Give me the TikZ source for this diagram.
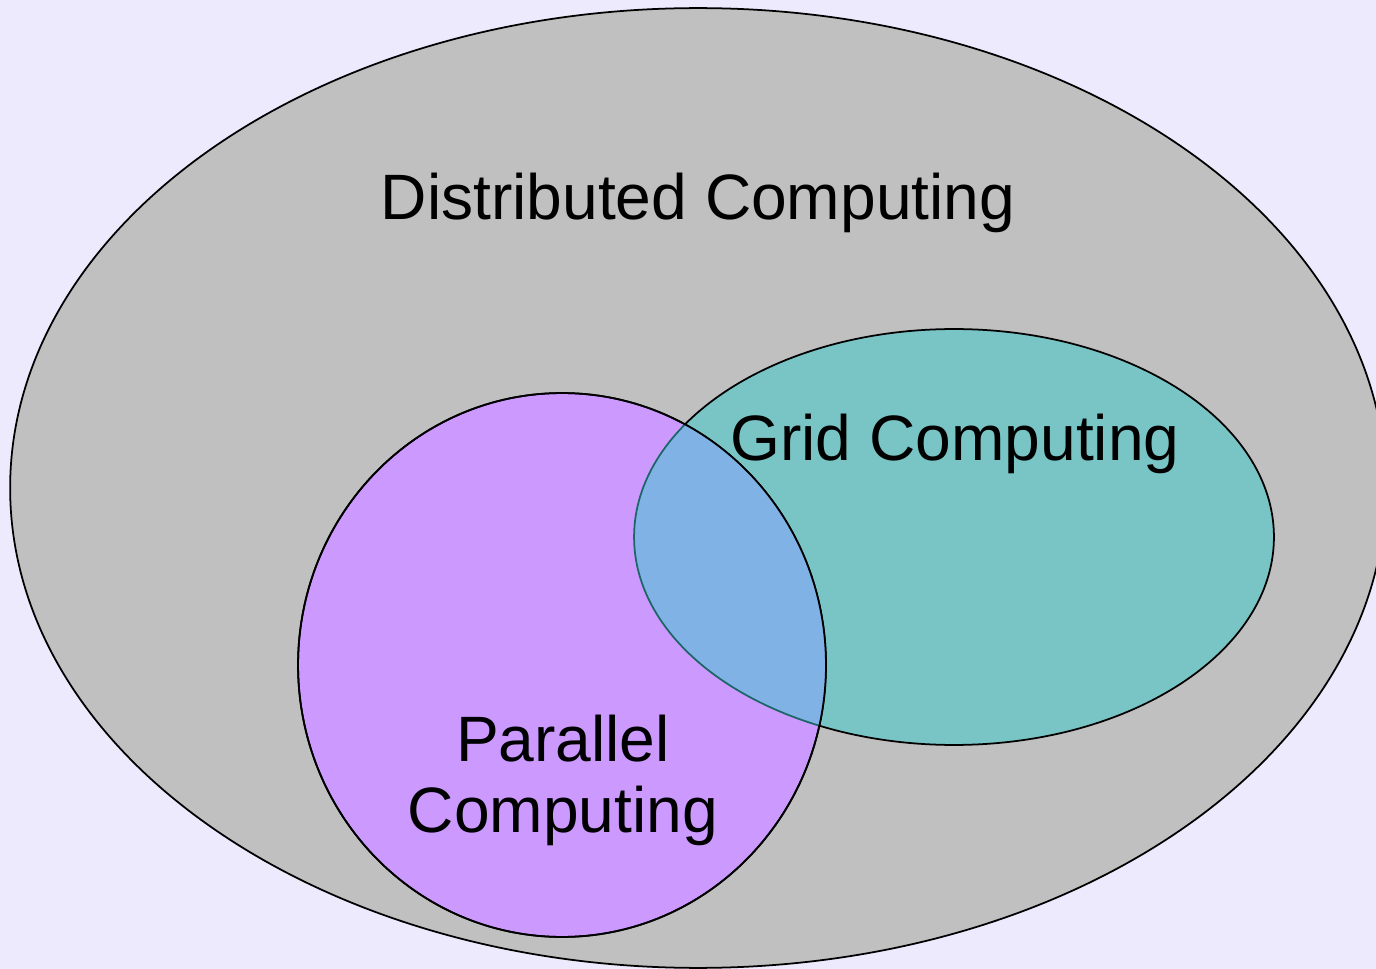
\documentclass[tikz,border=0pt]{standalone}
\usepackage{fontspec}
\setmainfont{Liberation Sans}
\usepackage{xcolor}
\usepackage{tikz}
\usetikzlibrary{positioning}

\definecolor{pagebg}{HTML}{EEEAFE}
\definecolor{distgray}{HTML}{C0C0C0}
\definecolor{parpurple}{HTML}{CC99FF}
\definecolor{gridteal}{HTML}{79C5C6}
\definecolor{bothblue}{HTML}{80B2E5}
\definecolor{bothline}{HTML}{1D6668}

\tikzset{
  setline/.style={draw=black, line width=1pt},
  setlabel/.style={font=\fontsize{36.5}{40}\selectfont, anchor=base, align=center, inner sep=0pt}
}

\begin{document}
\begin{tikzpicture}[x=0.02cm, y=-0.02cm]
\fill [pagebg] (0,0) rectangle (1376,969);
\useasboundingbox (0,0) rectangle (1376,969);
% the three sets
\begin{scope}
\clip (0,0) rectangle (1376,969);
\filldraw [setline, fill=distgray] (698,488) ellipse [x radius=13.76cm, y radius=9.6cm];
\end{scope}
\filldraw [setline, fill=gridteal] (954,537) ellipse [x radius=6.4cm, y radius=4.16cm];
\filldraw [setline, fill=parpurple] (562,665) ellipse [x radius=5.28cm, y radius=5.44cm];
% overlap of grid and parallel
\begin{scope}
\clip (562,665) ellipse [x radius=5.28cm, y radius=5.44cm];
\filldraw [line width=1pt, draw=bothline, fill=bothblue] (954,537) ellipse [x radius=6.4cm, y radius=4.16cm];
\end{scope}
\draw [setline] (562,665) ellipse [x radius=5.28cm, y radius=5.44cm];
% labels
\node [setlabel] (dist) at (698,220) {Distributed Computing};
\node [setlabel] (grid) at (955,460) {Grid Computing};
\node [setlabel] (par) at (563,832) {Parallel\\Computing};
\end{tikzpicture}
\end{document}
